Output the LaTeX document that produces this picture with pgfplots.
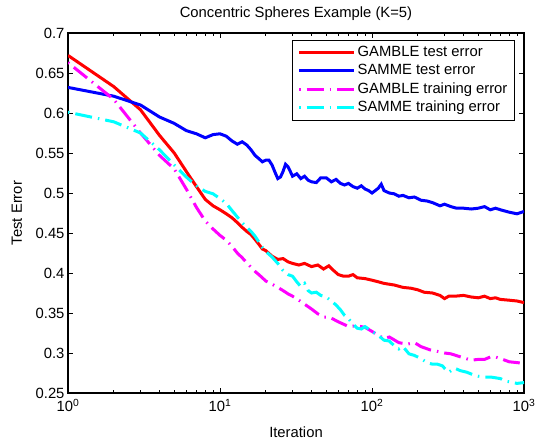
\documentclass[border=0pt]{standalone}
\usepackage{fontspec}
\setmainfont{Liberation Sans}
\usepackage{pgfplots}
\pgfplotsset{compat=1.18}
\definecolor{mred}{rgb}{1,0,0}
\definecolor{mblue}{rgb}{0,0,1}
\definecolor{mmag}{rgb}{1,0,1}
\definecolor{mcyan}{rgb}{0,1,1}
\begin{document}
\begin{tikzpicture}[font=\fontsize{14.8}{17}\selectfont]
\path[use as bounding box] (-68pt,-49pt) rectangle (467pt,393pt);
\begin{axis}[
  at={(0pt,0pt)}, anchor=south west,
  scale only axis, width=456pt, height=360pt,
  xmode=log, xmin=1, xmax=1000, ymin=0.25, ymax=0.7,
  xtick={1,10,100,1000},
  xticklabels={10\textsuperscript{0},10\textsuperscript{1},10\textsuperscript{2},10\textsuperscript{3}},
  xticklabel style={yshift=-3pt},
  ytick={0.25,0.3,0.35,0.4,0.45,0.5,0.55,0.6,0.65,0.7},
  yticklabels={0.25,0.3,0.35,0.4,0.45,0.5,0.55,0.6,0.65,0.7},
  tick align=inside, tick pos=both,
  major tick length=5pt, minor tick length=3pt,
  every tick/.style={black, line width=0.6pt},
  axis line style={black, line width=1.2pt},
  title={Concentric Spheres Example (K=5)},
  xlabel={Iteration}, ylabel={Test Error},
  every axis title/.style={at={(axis description cs:0.5,1)}, anchor=center, yshift=19pt},
  every axis x label/.style={at={(axis description cs:0.5,0)}, anchor=center, yshift=-39pt},
  every axis y label/.style={at={(axis description cs:-0.112,0.5)}, rotate=90, anchor=center},
  legend cell align=left,
  legend style={at={(0.98,0.981)}, anchor=north east, draw=black, line width=1pt,
    inner xsep=5pt, inner ysep=3pt, row sep=0pt,
    nodes={inner ysep=2.5pt, text height=10.5pt, text depth=3pt}},
  legend image code/.code={\draw[#1, line width=3pt] (0pt,0.5pt) -- (55pt,0.5pt);},
]
\addplot[mred, line width=3pt] coordinates {
(1,0.672) (2,0.633) (3,0.604) (4,0.572) (5,0.550) (6,0.527) (7,0.508) (8,0.492) (9,0.484) (10,0.479)
(11,0.474) (12,0.469) (13,0.463) (14,0.457) (15,0.452) (16,0.448) (17,0.442) (18,0.436) (19,0.430) (20,0.428)
(22,0.421) (24,0.417) (26,0.418) (28,0.414) (30,0.412) (33,0.410) (36,0.412) (40,0.408) (44,0.410) (48,0.405)
(52,0.409) (56,0.403) (60,0.398) (65,0.396) (70,0.396) (75,0.398) (80,0.394) (90,0.393) (100,0.391) (110,0.389)
(120,0.387) (140,0.385) (160,0.382) (180,0.381) (200,0.379) (220,0.376) (250,0.375) (280,0.372) (300,0.368) (320,0.371)
(350,0.371) (400,0.372) (450,0.370) (500,0.369) (550,0.371) (600,0.368) (650,0.369) (700,0.367) (800,0.366) (900,0.365) (1000,0.363)
};
\addlegendentry{GAMBLE test error}
\addplot[mblue, line width=3pt] coordinates {
(1,0.632) (2,0.621) (3,0.610) (4,0.595) (5,0.587) (6,0.578) (7,0.574) (8,0.569) (9,0.573) (10,0.574)
(11,0.571) (12,0.565) (13,0.561) (14,0.564) (15,0.560) (16,0.554) (17,0.547) (18,0.543) (19,0.539) (20,0.541)
(21,0.541) (22,0.535) (23,0.526) (24,0.518) (25,0.520) (26,0.527) (27,0.536) (28,0.533) (29,0.527) (30,0.521)
(32,0.524) (34,0.518) (36,0.521) (38,0.516) (40,0.514) (43,0.513) (46,0.519) (50,0.519) (54,0.514) (58,0.517)
(62,0.512) (66,0.510) (70,0.512) (75,0.508) (80,0.506) (85,0.509) (90,0.505) (95,0.503) (100,0.500) (105,0.503)
(110,0.506) (115,0.511) (120,0.503) (130,0.500) (140,0.499) (150,0.496) (160,0.497) (175,0.494) (190,0.495) (210,0.491)
(230,0.490) (250,0.488) (280,0.484) (300,0.486) (330,0.483) (360,0.481) (400,0.481) (450,0.480) (500,0.481) (550,0.483)
(600,0.479) (650,0.481) (700,0.479) (800,0.476) (900,0.474) (1000,0.477)
};
\addlegendentry{SAMME test error}
\addplot[mmag, line width=3pt, dash pattern=on 1.5pt off 6pt on 17pt off 6pt] coordinates {
(1,0.663) (2,0.617) (3,0.575) (4,0.547) (5,0.530) (6,0.505) (7,0.482) (8,0.465) (9,0.455) (10,0.447)
(11,0.441) (12,0.433) (13,0.425) (14,0.419) (15,0.413) (16,0.407) (17,0.402) (18,0.398) (19,0.394) (20,0.390)
(22,0.386) (24,0.382) (26,0.378) (28,0.374) (30,0.371) (33,0.366) (36,0.361) (40,0.355) (44,0.349) (48,0.345)
(52,0.345) (56,0.342) (60,0.339) (65,0.336) (70,0.333) (80,0.334) (90,0.332) (100,0.327) (110,0.322) (120,0.318)
(130,0.320) (150,0.313) (170,0.311) (190,0.313) (210,0.308) (240,0.304) (270,0.302) (300,0.300) (330,0.299) (370,0.296)
(400,0.294) (450,0.291) (500,0.292) (550,0.292) (600,0.295) (650,0.295) (700,0.293) (800,0.289) (900,0.288) (1000,0.287)
};
\addlegendentry{GAMBLE training error}
\addplot[mcyan, line width=3pt, dash pattern=on 1.5pt off 6pt on 17pt off 6pt] coordinates {
(1,0.601) (2,0.589) (3,0.575) (4,0.554) (5,0.535) (6,0.520) (7,0.509) (8,0.502) (9,0.499) (10,0.493)
(11,0.487) (12,0.478) (13,0.470) (14,0.463) (15,0.457) (16,0.452) (17,0.446) (18,0.439) (19,0.432) (20,0.427)
(22,0.420) (24,0.412) (26,0.403) (28,0.398) (30,0.396) (32,0.389) (34,0.383) (36,0.387) (38,0.378) (40,0.375)
(43,0.376) (46,0.372) (50,0.370) (54,0.365) (58,0.360) (62,0.354) (66,0.347) (70,0.343) (75,0.336) (80,0.331)
(85,0.330) (90,0.333) (95,0.330) (100,0.327) (110,0.322) (120,0.316) (130,0.315) (140,0.309) (150,0.305) (160,0.308)
(175,0.299) (190,0.297) (210,0.293) (230,0.288) (250,0.286) (270,0.286) (290,0.284) (300,0.281) (320,0.276) (350,0.281)
(380,0.278) (420,0.276) (460,0.273) (500,0.271) (550,0.270) (600,0.270) (650,0.269) (700,0.268) (750,0.265) (800,0.264)
(900,0.262) (1000,0.263)
};
\addlegendentry{SAMME training error}
\end{axis}
\end{tikzpicture}
\end{document}
